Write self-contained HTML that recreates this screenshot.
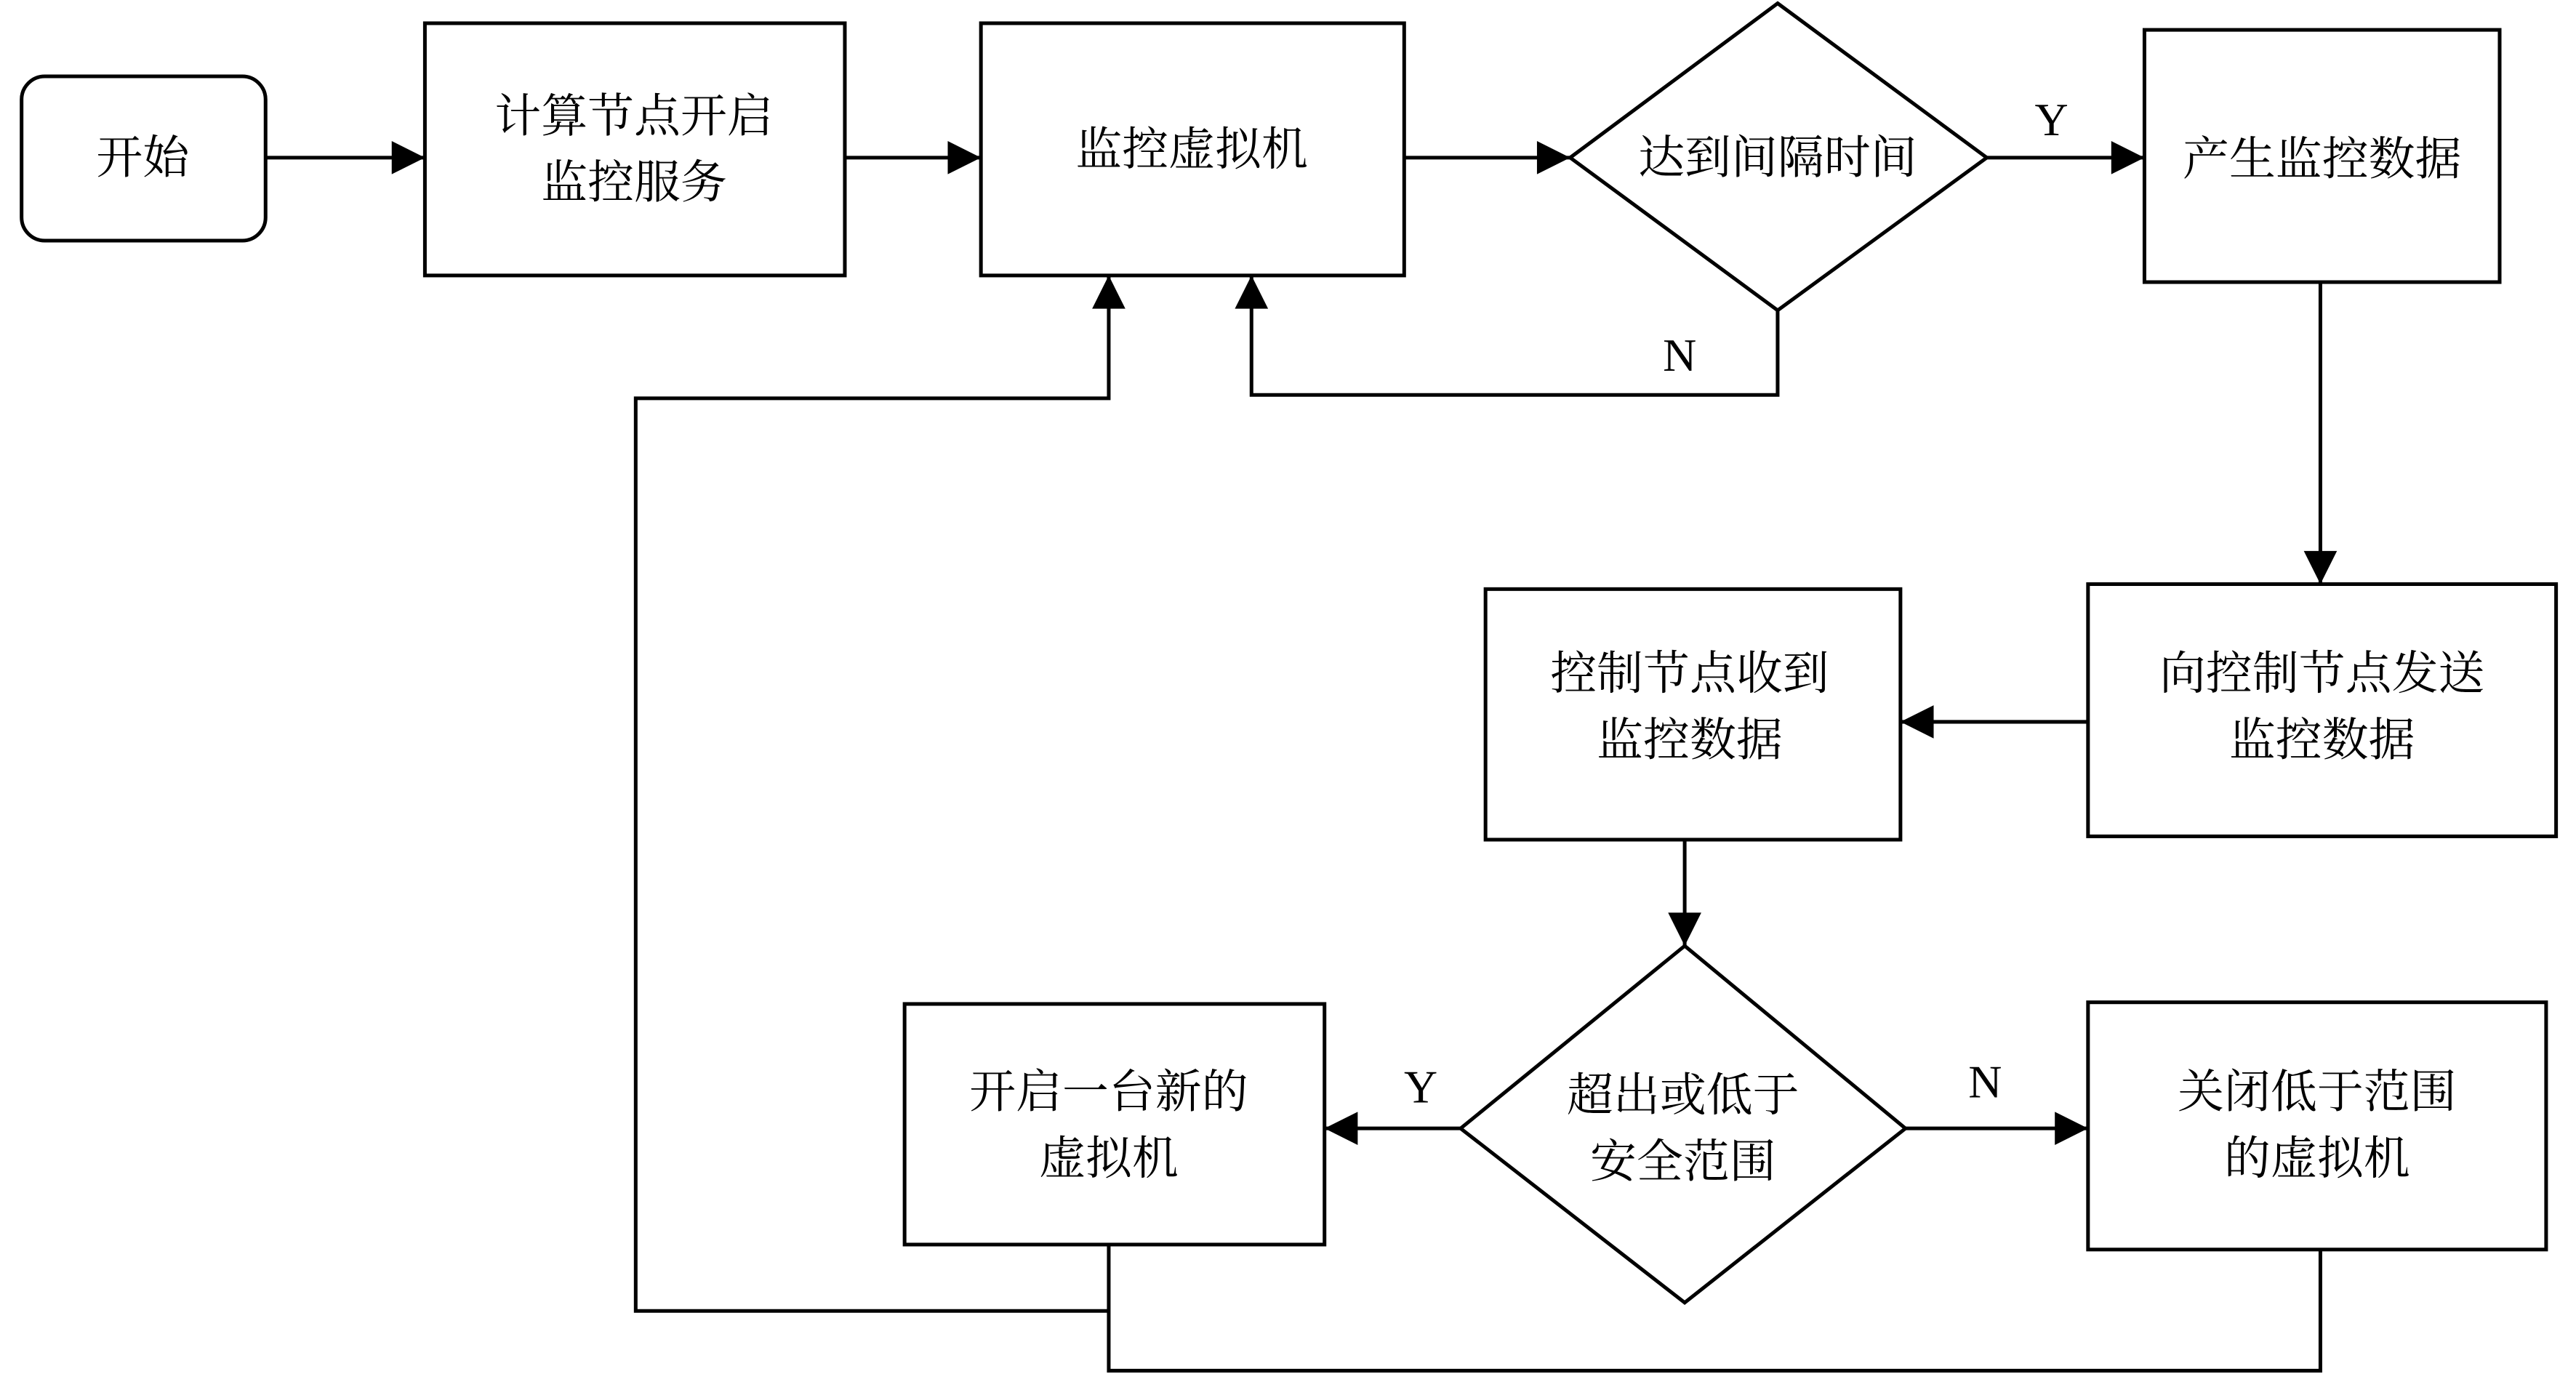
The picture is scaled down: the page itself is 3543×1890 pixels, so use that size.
<!DOCTYPE html>
<html><head><meta charset="utf-8"><style>
html,body{margin:0;padding:0;background:#fff;}
svg{display:block;}
text{font-family:"Liberation Serif","Noto Serif CJK SC",serif;font-size:28px;fill:#000;text-anchor:middle;dominant-baseline:central;}
</style></head><body>
<svg width="3543" height="1890" viewBox="0 0 1552 828" preserveAspectRatio="none" xmlns="http://www.w3.org/2000/svg">
<defs><marker id="a" viewBox="0 0 10 10" refX="10" refY="5" markerWidth="22" markerHeight="20" markerUnits="userSpaceOnUse" orient="auto"><path d="M0,0L10,5L0,10z" fill="#000"/></marker></defs>
<g fill="none" stroke="#000" stroke-width="2.2">
<rect x="13" y="46" width="147" height="99" rx="14"/>
<rect x="256" y="14" width="253" height="152"/>
<rect x="591" y="14" width="255" height="152"/>
<polygon points="1071,2 1197,95 1071,187 946,95"/>
<rect x="1292" y="18" width="214" height="152"/>
<rect x="1258" y="352" width="282" height="152"/>
<rect x="895" y="355" width="250" height="151"/>
<polygon points="1015,570 1148,680 1015,785 880,680"/>
<rect x="545" y="605" width="253" height="145"/>
<rect x="1258" y="604" width="276" height="149"/>
<line x1="160" y1="95" x2="256" y2="95" marker-end="url(#a)"/>
<line x1="509" y1="95" x2="591" y2="95" marker-end="url(#a)"/>
<line x1="846" y1="95" x2="946" y2="95" marker-end="url(#a)"/>
<line x1="1197" y1="95" x2="1292" y2="95" marker-end="url(#a)"/>
<polyline points="1071,187 1071,238 754,238 754,166" marker-end="url(#a)"/>
<line x1="1398" y1="170" x2="1398" y2="352" marker-end="url(#a)"/>
<line x1="1258" y1="435" x2="1145" y2="435" marker-end="url(#a)"/>
<line x1="1015" y1="506" x2="1015" y2="570" marker-end="url(#a)"/>
<line x1="880" y1="680" x2="798" y2="680" marker-end="url(#a)"/>
<line x1="1148" y1="680" x2="1258" y2="680" marker-end="url(#a)"/>
<polyline points="668,750 668,826 1398,826 1398,753"/>
<polyline points="668,790 383,790 383,240 668,240 668,166" marker-end="url(#a)"/>
</g>
<text x="86" y="95">开始</text>
<text x="382" y="70">计算节点开启</text>
<text x="382" y="110">监控服务</text>
<text x="718" y="90">监控虚拟机</text>
<text x="1071" y="95">达到间隔时间</text>
<text x="1236" y="72">Y</text>
<text x="1012" y="214">N</text>
<text x="1399" y="96">产生监控数据</text>
<text x="1399" y="406">向控制节点发送</text>
<text x="1399" y="446">监控数据</text>
<text x="1018" y="406">控制节点收到</text>
<text x="1018" y="446">监控数据</text>
<text x="1014" y="660">超出或低于</text>
<text x="1014" y="700">安全范围</text>
<text x="856" y="655">Y</text>
<text x="1196" y="652">N</text>
<text x="668" y="658">开启一台新的</text>
<text x="668" y="698">虚拟机</text>
<text x="1396" y="658">关闭低于范围</text>
<text x="1396" y="698">的虚拟机</text>
</svg>
</body></html>
